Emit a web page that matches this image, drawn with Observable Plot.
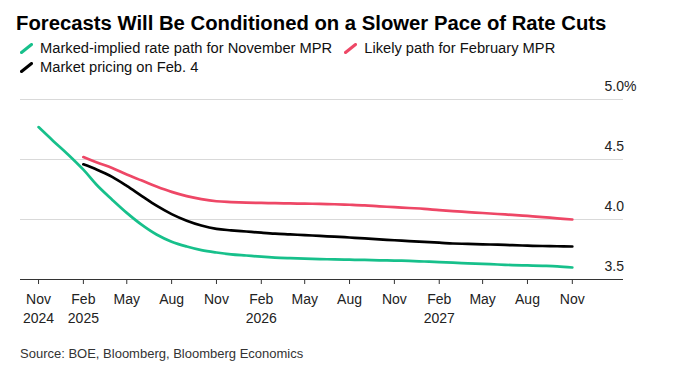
<!DOCTYPE html>
<html><head><meta charset="utf-8">
<script src="https://cdn.jsdelivr.net/npm/d3@7"></script>
<script src="https://cdn.jsdelivr.net/npm/@observablehq/plot@0.6"></script>
<style>
body{margin:0;background:#fff;font-family:"Liberation Sans",Arial,Helvetica,sans-serif;color:#111;}
#wrap{position:relative;width:675px;height:376px;overflow:hidden;}
#title{position:absolute;left:16px;top:11px;font-size:20.3px;line-height:24px;font-weight:bold;color:#000;white-space:nowrap;}
#legend{position:absolute;left:20px;top:39px;width:620px;font-size:14.7px;line-height:18.5px;color:#111;}
.item{display:inline-flex;align-items:center;margin-right:12px;white-space:nowrap;}
.item svg{margin-right:7px;}
#chart{position:absolute;left:0;top:80px;}
#source{position:absolute;left:20px;top:346px;font-size:13px;line-height:16px;color:#333;white-space:nowrap;}
</style></head><body>
<div id="wrap">
<div id="title">Forecasts Will Be Conditioned on a Slower Pace of Rate Cuts</div>
<div id="legend"></div>
<div id="chart"></div>
<div id="source">Source: BOE, Bloomberg, Bloomberg Economics</div>
</div>
<script>
// Series names and colours
const seriesNames = ["Marked-implied rate path for November MPR", "Likely path for February MPR", "Market pricing on Feb. 4"];
const seriesColors = ["#17c08b", "#ee4766", "#000000"];

// Monthly values
const novStart = "2024-11-01";
const novMPR = [4.77,4.655,4.54,4.415,4.285,4.165,4.055,3.955,3.875,3.815,3.775,3.745,3.725,3.71,3.70,3.69,3.683,3.678,3.674,3.67,3.668,3.665,3.663,3.66,3.658,3.655,3.65,3.645,3.64,3.635,3.63,3.625,3.62,3.617,3.614,3.61,3.60];
const febStart = "2025-02-01";
const febMPR = [4.52,4.475,4.43,4.375,4.325,4.275,4.23,4.195,4.17,4.152,4.145,4.14,4.138,4.136,4.134,4.132,4.13,4.127,4.123,4.118,4.11,4.103,4.096,4.089,4.078,4.07,4.062,4.054,4.046,4.038,4.03,4.02,4.01,4.00];
const marketStart = "2025-02-01";
const marketFeb4 = [4.46,4.415,4.355,4.28,4.195,4.115,4.045,3.99,3.95,3.922,3.91,3.90,3.89,3.882,3.876,3.87,3.863,3.857,3.85,3.842,3.835,3.827,3.82,3.813,3.807,3.80,3.797,3.793,3.79,3.786,3.782,3.779,3.777,3.775];

// Axis ticks and labels
const xTicks = ["2024-11-01","2025-02-01","2025-05-01","2025-08-01","2025-11-01","2026-02-01","2026-05-01","2026-08-01","2026-11-01","2027-02-01","2027-05-01","2027-08-01","2027-11-01"];
const xMonthLabels = ["Nov","Feb","May","Aug","Nov","Feb","May","Aug","Nov","Feb","May","Aug","Nov"];
const xYearLabels = ["2024","2025","","","","2026","","","","2027","","",""];
const yTicks = [3.5, 4.0, 4.5, 5.0];
const yTickLabels = ["3.5", "4.0", "4.5", "5.0%"];

const parse = s => new Date(s + "T00:00:00Z");
function toRows(start, vals, name) {
  const s = parse(start);
  return vals.map((v, i) => ({date: d3.utcMonth.offset(s, i), value: v, series: name}));
}
const rows = [
  ...toRows(novStart, novMPR, seriesNames[0]),
  ...toRows(febStart, febMPR, seriesNames[1]),
  ...toRows(marketStart, marketFeb4, seriesNames[2])
];
const tickDates = xTicks.map(parse);
const yearTicks = tickDates.map((d, i) => ({d, t: xYearLabels[i]})).filter(o => o.t);

// Legend
const legend = document.getElementById("legend");
seriesNames.forEach((n, i) => {
  const it = document.createElement("span");
  it.className = "item";
  it.innerHTML = `<svg width="13" height="11" viewBox="0 0 13 11"><line x1="1.5" y1="9.5" x2="11.5" y2="1.5" stroke="${seriesColors[i]}" stroke-width="3" stroke-linecap="round"/></svg>${n}`;
  legend.appendChild(it);
  if (i === 1) legend.appendChild(document.createElement("br"));
});

const chart = Plot.plot({
  width: 675,
  height: 250,
  marginTop: 19,
  marginBottom: 51,
  marginLeft: 20,
  marginRight: 52,
  x: {type: "utc", domain: [new Date(Date.UTC(2024, 8, 25)), new Date(Date.UTC(2028, 1, 14))], axis: null},
  y: {domain: [3.5, 5.0], axis: null},
  color: {domain: seriesNames, range: seriesColors},
  style: {fontFamily: "'Liberation Sans', Arial, sans-serif", fontSize: "14px", color: "#222", background: "#fff"},
  marks: [
    Plot.ruleY(yTicks.slice(1), {stroke: "#d9d9d9", strokeWidth: 1}),
    Plot.ruleY([yTicks[0]], {stroke: "#333", strokeWidth: 1}),
    Plot.axisX({ticks: tickDates, tickSize: 5, tickFormat: () => "", stroke: "#333", strokeOpacity: 1}),
    Plot.text(tickDates, {x: d => d, text: (d, i) => xMonthLabels[i], frameAnchor: "bottom", dy: 20, lineAnchor: "middle", fill: "#222", fontSize: 14}),
    Plot.text(yearTicks, {x: "d", text: "t", frameAnchor: "bottom", dy: 39, lineAnchor: "middle", fill: "#222", fontSize: 14}),
    Plot.text(yTicks, {y: d => d, text: (d, i) => yTickLabels[i], frameAnchor: "right", textAnchor: "start", dx: -19, dy: -13, lineAnchor: "middle", fill: "#222", fontSize: 14}),
    Plot.line(rows, {x: "date", y: "value", z: "series", stroke: "series", strokeWidth: 2.7, curve: "catmull-rom"})
  ]
});
document.getElementById("chart").appendChild(chart);
</script>
</body></html>
